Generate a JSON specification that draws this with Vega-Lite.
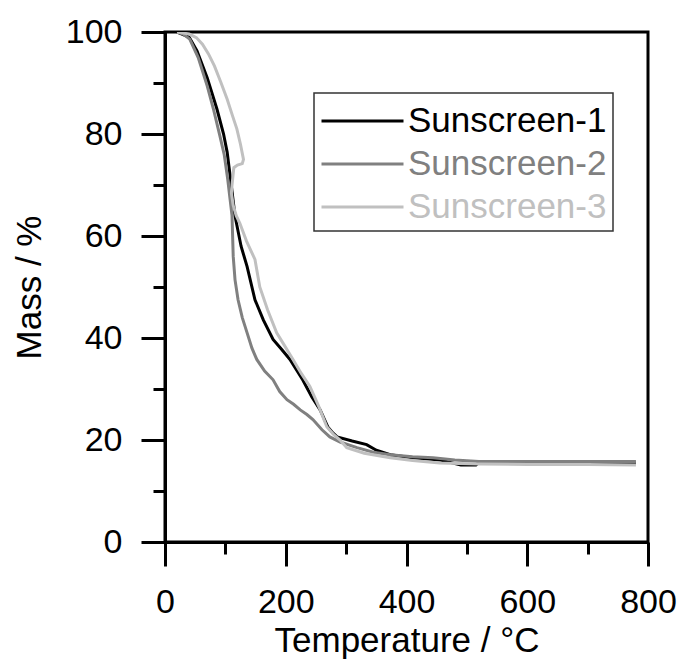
{
  "$schema": "https://vega.github.io/schema/vega-lite/v6.json",
  "width": 483,
  "height": 510,
  "autosize": "none",
  "padding": {"left": 165, "top": 32, "right": 35, "bottom": 117},
  "background": "white",
  "config": {
    "view": {"stroke": "black", "strokeWidth": 3},
    "font": "Liberation Sans"
  },
  "data": {
    "values": [
      {"s": "Sunscreen-1", "i": 1, "t": 20, "m": 100},
      {"s": "Sunscreen-1", "i": 2, "t": 40, "m": 99},
      {"s": "Sunscreen-1", "i": 3, "t": 53, "m": 96.3},
      {"s": "Sunscreen-1", "i": 4, "t": 70, "m": 91},
      {"s": "Sunscreen-1", "i": 5, "t": 86, "m": 84.9},
      {"s": "Sunscreen-1", "i": 6, "t": 97, "m": 80},
      {"s": "Sunscreen-1", "i": 7, "t": 103, "m": 76.4},
      {"s": "Sunscreen-1", "i": 8, "t": 108, "m": 71.7},
      {"s": "Sunscreen-1", "i": 9, "t": 116, "m": 63.9},
      {"s": "Sunscreen-1", "i": 10, "t": 126, "m": 58},
      {"s": "Sunscreen-1", "i": 11, "t": 136, "m": 54},
      {"s": "Sunscreen-1", "i": 12, "t": 149, "m": 47.5},
      {"s": "Sunscreen-1", "i": 13, "t": 163, "m": 43.5},
      {"s": "Sunscreen-1", "i": 14, "t": 179, "m": 39.7},
      {"s": "Sunscreen-1", "i": 15, "t": 193, "m": 37.8},
      {"s": "Sunscreen-1", "i": 16, "t": 207, "m": 35.8},
      {"s": "Sunscreen-1", "i": 17, "t": 228, "m": 31.8},
      {"s": "Sunscreen-1", "i": 18, "t": 243, "m": 28.5},
      {"s": "Sunscreen-1", "i": 19, "t": 257, "m": 25.9},
      {"s": "Sunscreen-1", "i": 20, "t": 270, "m": 22.5},
      {"s": "Sunscreen-1", "i": 21, "t": 278, "m": 21.4},
      {"s": "Sunscreen-1", "i": 22, "t": 285, "m": 20.6},
      {"s": "Sunscreen-1", "i": 23, "t": 310, "m": 19.8},
      {"s": "Sunscreen-1", "i": 24, "t": 334, "m": 19.1},
      {"s": "Sunscreen-1", "i": 25, "t": 350, "m": 18},
      {"s": "Sunscreen-1", "i": 26, "t": 373, "m": 17.1},
      {"s": "Sunscreen-1", "i": 27, "t": 410, "m": 16.5},
      {"s": "Sunscreen-1", "i": 28, "t": 455, "m": 16.1},
      {"s": "Sunscreen-1", "i": 29, "t": 490, "m": 15.1},
      {"s": "Sunscreen-1", "i": 30, "t": 515, "m": 15.1},
      {"s": "Sunscreen-1", "i": 31, "t": 520, "m": 15.6},
      {"s": "Sunscreen-1", "i": 32, "t": 600, "m": 15.6},
      {"s": "Sunscreen-1", "i": 33, "t": 700, "m": 15.6},
      {"s": "Sunscreen-1", "i": 34, "t": 780, "m": 15.5},

      {"s": "Sunscreen-2", "i": 1, "t": 20, "m": 100},
      {"s": "Sunscreen-2", "i": 2, "t": 30, "m": 99.6},
      {"s": "Sunscreen-2", "i": 3, "t": 41, "m": 98.6},
      {"s": "Sunscreen-2", "i": 4, "t": 55, "m": 95},
      {"s": "Sunscreen-2", "i": 5, "t": 70, "m": 89.4},
      {"s": "Sunscreen-2", "i": 6, "t": 80, "m": 85},
      {"s": "Sunscreen-2", "i": 7, "t": 91, "m": 79.6},
      {"s": "Sunscreen-2", "i": 8, "t": 98, "m": 76},
      {"s": "Sunscreen-2", "i": 9, "t": 104, "m": 71},
      {"s": "Sunscreen-2", "i": 10, "t": 108, "m": 67},
      {"s": "Sunscreen-2", "i": 11, "t": 111, "m": 64},
      {"s": "Sunscreen-2", "i": 12, "t": 113, "m": 56},
      {"s": "Sunscreen-2", "i": 13, "t": 116, "m": 51.4},
      {"s": "Sunscreen-2", "i": 14, "t": 121, "m": 47.5},
      {"s": "Sunscreen-2", "i": 15, "t": 128, "m": 44},
      {"s": "Sunscreen-2", "i": 16, "t": 136, "m": 41},
      {"s": "Sunscreen-2", "i": 17, "t": 144, "m": 38},
      {"s": "Sunscreen-2", "i": 18, "t": 152, "m": 35.8},
      {"s": "Sunscreen-2", "i": 19, "t": 165, "m": 33.5},
      {"s": "Sunscreen-2", "i": 20, "t": 179, "m": 31.8},
      {"s": "Sunscreen-2", "i": 21, "t": 190, "m": 29.5},
      {"s": "Sunscreen-2", "i": 22, "t": 202, "m": 27.9},
      {"s": "Sunscreen-2", "i": 23, "t": 213, "m": 27},
      {"s": "Sunscreen-2", "i": 24, "t": 224, "m": 25.9},
      {"s": "Sunscreen-2", "i": 25, "t": 235, "m": 25},
      {"s": "Sunscreen-2", "i": 26, "t": 245, "m": 24},
      {"s": "Sunscreen-2", "i": 27, "t": 260, "m": 22},
      {"s": "Sunscreen-2", "i": 28, "t": 273, "m": 20.6},
      {"s": "Sunscreen-2", "i": 29, "t": 290, "m": 19.6},
      {"s": "Sunscreen-2", "i": 30, "t": 318, "m": 18.5},
      {"s": "Sunscreen-2", "i": 31, "t": 345, "m": 17.6},
      {"s": "Sunscreen-2", "i": 32, "t": 373, "m": 17.1},
      {"s": "Sunscreen-2", "i": 33, "t": 410, "m": 16.7},
      {"s": "Sunscreen-2", "i": 34, "t": 444, "m": 16.5},
      {"s": "Sunscreen-2", "i": 35, "t": 480, "m": 16.1},
      {"s": "Sunscreen-2", "i": 36, "t": 520, "m": 15.8},
      {"s": "Sunscreen-2", "i": 37, "t": 600, "m": 15.8},
      {"s": "Sunscreen-2", "i": 38, "t": 700, "m": 15.8},
      {"s": "Sunscreen-2", "i": 39, "t": 780, "m": 15.8},

      {"s": "Sunscreen-3", "i": 1, "t": 20, "m": 100},
      {"s": "Sunscreen-3", "i": 2, "t": 40, "m": 99.6},
      {"s": "Sunscreen-3", "i": 3, "t": 52, "m": 98.9},
      {"s": "Sunscreen-3", "i": 4, "t": 62, "m": 97.6},
      {"s": "Sunscreen-3", "i": 5, "t": 72, "m": 95.7},
      {"s": "Sunscreen-3", "i": 6, "t": 82, "m": 93.3},
      {"s": "Sunscreen-3", "i": 7, "t": 92, "m": 90.3},
      {"s": "Sunscreen-3", "i": 8, "t": 103, "m": 86.8},
      {"s": "Sunscreen-3", "i": 9, "t": 112, "m": 83.5},
      {"s": "Sunscreen-3", "i": 10, "t": 119, "m": 81},
      {"s": "Sunscreen-3", "i": 11, "t": 125, "m": 78},
      {"s": "Sunscreen-3", "i": 12, "t": 130, "m": 75},
      {"s": "Sunscreen-3", "i": 13, "t": 128, "m": 74.2},
      {"s": "Sunscreen-3", "i": 14, "t": 120, "m": 73.9},
      {"s": "Sunscreen-3", "i": 15, "t": 114, "m": 73.4},
      {"s": "Sunscreen-3", "i": 16, "t": 111, "m": 70},
      {"s": "Sunscreen-3", "i": 17, "t": 110, "m": 68.4},
      {"s": "Sunscreen-3", "i": 18, "t": 113, "m": 66},
      {"s": "Sunscreen-3", "i": 19, "t": 118, "m": 64},
      {"s": "Sunscreen-3", "i": 20, "t": 124, "m": 62.5},
      {"s": "Sunscreen-3", "i": 21, "t": 135, "m": 59},
      {"s": "Sunscreen-3", "i": 22, "t": 149, "m": 55.4},
      {"s": "Sunscreen-3", "i": 23, "t": 157, "m": 50},
      {"s": "Sunscreen-3", "i": 24, "t": 170, "m": 45.5},
      {"s": "Sunscreen-3", "i": 25, "t": 185, "m": 41},
      {"s": "Sunscreen-3", "i": 26, "t": 198, "m": 38.5},
      {"s": "Sunscreen-3", "i": 27, "t": 212, "m": 35.8},
      {"s": "Sunscreen-3", "i": 28, "t": 226, "m": 33},
      {"s": "Sunscreen-3", "i": 29, "t": 240, "m": 30.5},
      {"s": "Sunscreen-3", "i": 30, "t": 255, "m": 26.5},
      {"s": "Sunscreen-3", "i": 31, "t": 268, "m": 22.6},
      {"s": "Sunscreen-3", "i": 32, "t": 280, "m": 21},
      {"s": "Sunscreen-3", "i": 33, "t": 290, "m": 20},
      {"s": "Sunscreen-3", "i": 34, "t": 301, "m": 18.5},
      {"s": "Sunscreen-3", "i": 35, "t": 330, "m": 17.4},
      {"s": "Sunscreen-3", "i": 36, "t": 373, "m": 16.5},
      {"s": "Sunscreen-3", "i": 37, "t": 410, "m": 16},
      {"s": "Sunscreen-3", "i": 38, "t": 455, "m": 15.5},
      {"s": "Sunscreen-3", "i": 39, "t": 520, "m": 15.3},
      {"s": "Sunscreen-3", "i": 40, "t": 600, "m": 15.2},
      {"s": "Sunscreen-3", "i": 41, "t": 700, "m": 15.2},
      {"s": "Sunscreen-3", "i": 42, "t": 780, "m": 15.1}
    ]
  },
  "mark": {"type": "line", "strokeWidth": 3, "clip": true},
  "encoding": {
    "x": {
      "field": "t",
      "type": "quantitative",
      "scale": {"domain": [0, 800], "nice": false},
      "axis": {
        "title": "Temperature / °C",
        "values": [0, 100, 200, 300, 400, 500, 600, 700, 800],
        "labelExpr": "datum.value % 200 === 0 ? datum.label : ''",
        "format": "d",
        "grid": false,
        "domainColor": "black",
        "domainWidth": 3,
        "tickColor": "black",
        "tickWidth": 3,
        "tickSize": {"condition": {"test": "datum.value % 200 === 0", "value": 24}, "value": 12},
        "labelFontSize": 34,
        "labelColor": "black",
        "labelPadding": 19,
        "labelFlush": false,
        "labelOverlap": false,
        "titleFontSize": 35,
        "titleFontWeight": "normal",
        "titleColor": "black",
        "titlePadding": 4
      }
    },
    "y": {
      "field": "m",
      "type": "quantitative",
      "scale": {"domain": [0, 100], "nice": false},
      "axis": {
        "title": "Mass / %",
        "values": [0, 10, 20, 30, 40, 50, 60, 70, 80, 90, 100],
        "labelExpr": "datum.value % 20 === 0 ? datum.label : ''",
        "grid": false,
        "domainColor": "black",
        "domainWidth": 3,
        "tickColor": "black",
        "tickWidth": 3,
        "tickSize": {"condition": {"test": "datum.value % 20 === 0", "value": 24}, "value": 12},
        "labelFontSize": 34,
        "labelColor": "black",
        "labelPadding": 19,
        "labelFlush": false,
        "labelOverlap": false,
        "titleFontSize": 35,
        "titleFontWeight": "normal",
        "titleColor": "black",
        "titlePadding": 18
      }
    },
    "color": {
      "field": "s",
      "type": "nominal",
      "scale": {
        "domain": ["Sunscreen-1", "Sunscreen-2", "Sunscreen-3"],
        "range": ["#000000", "#808080", "#c0c0c0"]
      },
      "legend": {
        "title": null,
        "orient": "none",
        "legendX": 149,
        "legendY": 61,
        "symbolType": "M-1,0H3",
        "symbolSize": 1681,
        "symbolStrokeWidth": 3,
        "labelFontSize": 35,
        "labelOffset": 44,
        "rowPadding": 3,
        "padding": 6,
        "strokeColor": "#333333",
        "fillColor": "white",
        "labelLimit": 400,
        "encode": {
          "legend": {"update": {"strokeWidth": {"value": 1.5}}},
          "labels": {"update": {"fill": {"scale": "color", "field": "value"}}}
        }
      }
    },
    "order": {"field": "i", "type": "quantitative"}
  }
}
